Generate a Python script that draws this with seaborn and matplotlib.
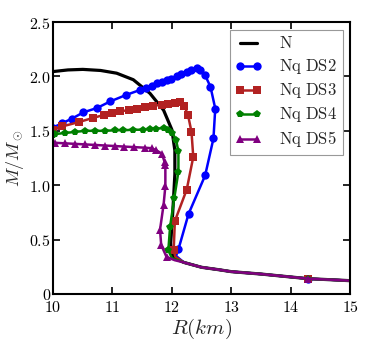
import matplotlib
matplotlib.use("Agg")
import matplotlib.pyplot as plt
import seaborn as sns
import numpy as np

# shared low-mass tail (all models coincide here)
R_TAIL = [12.2, 12.5, 12.8, 13.0, 13.5, 14.0, 14.3, 14.7, 15.0]
M_TAIL = [0.29, 0.245, 0.222, 0.205, 0.183, 0.156, 0.140, 0.130, 0.122]

# N (no markers)
R_N = [10.0, 10.25, 10.5, 10.8, 11.07, 11.35, 11.63, 11.86, 12.0, 12.05, 12.05, 12.03, 12.01, 11.98, 11.99, 12.05]
M_N = [2.045, 2.06, 2.065, 2.055, 2.03, 1.97, 1.845, 1.69, 1.51, 1.32, 1.1, 0.9, 0.71, 0.47, 0.38, 0.33]

# Nq DS2
R_DS2 = [10.0, 10.15, 10.31, 10.51, 10.74, 10.96, 11.23, 11.46, 11.57, 11.66, 11.75, 11.83, 11.91,
         11.99, 12.08, 12.16, 12.25, 12.33, 12.42, 12.48, 12.56, 12.65, 12.73, 12.70, 12.56,
         12.28, 12.11, 12.07]
M_DS2 = [1.53, 1.57, 1.61, 1.67, 1.71, 1.77, 1.83, 1.875, 1.89, 1.91, 1.94, 1.95, 1.97,
         1.98, 2.0, 2.02, 2.04, 2.06, 2.075, 2.06, 2.01, 1.905, 1.705, 1.43, 1.09,
         0.735, 0.41, 0.35]

# Nq DS3
R_DS3 = [10.0, 10.15, 10.43, 10.68, 10.85, 10.99, 11.13, 11.27, 11.41, 11.55, 11.69, 11.83, 11.94,
         12.05, 12.13, 12.21, 12.27, 12.33, 12.36, 12.25, 12.05, 12.03, 12.06]
M_DS3 = [1.51, 1.54, 1.58, 1.62, 1.645, 1.66, 1.68, 1.69, 1.70, 1.716, 1.73, 1.74, 1.75,
         1.76, 1.765, 1.725, 1.65, 1.49, 1.26, 0.96, 0.67, 0.40, 0.34]

# Nq DS4
R_DS4 = [10.0, 10.03, 10.2, 10.37, 10.54, 10.71, 10.87, 11.04, 11.18, 11.35, 11.52, 11.63, 11.74,
         11.86, 11.94, 12.01, 12.07, 12.11, 12.11, 12.04, 11.97, 11.94, 12.0]
M_DS4 = [1.46, 1.47, 1.48, 1.49, 1.50, 1.50, 1.50, 1.505, 1.505, 1.51, 1.51, 1.515, 1.52,
         1.525, 1.51, 1.48, 1.415, 1.31, 1.125, 0.88, 0.62, 0.40, 0.33]

# Nq DS5
R_DS5 = [10.0, 10.03, 10.2, 10.37, 10.54, 10.71, 10.87, 11.04, 11.2, 11.37, 11.54, 11.66, 11.74,
         11.83, 11.88, 11.89, 11.89, 11.86, 11.80, 11.82, 11.91, 12.05]
M_DS5 = [1.39, 1.39, 1.385, 1.38, 1.375, 1.37, 1.365, 1.36, 1.355, 1.35, 1.345, 1.34, 1.32,
         1.29, 1.21, 1.19, 0.99, 0.82, 0.59, 0.45, 0.34, 0.31]

X_TICKS = [10, 11, 12, 13, 14, 15]
X_LABELS = ["10", "11", "12", "13", "14", "15"]
Y_TICKS = [0, 0.5, 1.0, 1.5, 2.0, 2.5]
Y_LABELS = ["0", "0.5", "1.0", "1.5", "2.0", "2.5"]

sns.set_style("ticks")
plt.rcParams["mathtext.fontset"] = "cm"
plt.rcParams["font.family"] = ["DejaVu Serif"]

fig = plt.figure(figsize=(3.74, 3.45), dpi=100)
ax = fig.add_axes([0.142, 0.148, 0.794, 0.788])

sns.lineplot(x=R_N + R_TAIL, y=M_N + M_TAIL, sort=False, estimator=None, color="black",
             lw=2.3, label=r"$\mathrm{N}$", ax=ax)

series = [
    (R_DS2, M_DS2, "#0000ff", "o", 6.0, r"$\mathrm{Nq\ DS2}$"),
    (R_DS3, M_DS3, "#b22222", "s", 5.6, r"$\mathrm{Nq\ DS3}$"),
    (R_DS4, M_DS4, "#008000", "p", 6.0, r"$\mathrm{Nq\ DS4}$"),
    (R_DS5, M_DS5, "#800080", "^", 6.4, r"$\mathrm{Nq\ DS5}$"),
]
for r, m, c, mk, ms, lab in series:
    n = len(r)
    marks = list(range(n - 1)) + [n + R_TAIL.index(14.3)]
    sns.lineplot(x=r + R_TAIL, y=m + M_TAIL, sort=False, estimator=None, color=c,
                 lw=1.8, marker=mk, markersize=ms, markeredgewidth=0, markevery=marks,
                 label=lab, ax=ax)

ax.set_xlim(10, 15)
ax.set_ylim(0, 2.5)
ax.set_xticks(X_TICKS)
ax.set_xticklabels([f"${t}$" for t in X_LABELS])
ax.set_yticks(Y_TICKS)
ax.set_yticklabels([f"${t}$" for t in Y_LABELS])
ax.tick_params(direction="in", top=True, right=True, length=5, width=1.2,
               labelsize=11.5, colors="black")
ax.tick_params(axis="y", pad=1.5)
ax.tick_params(axis="x", pad=4)
for s in ax.spines.values():
    s.set_linewidth(1.5)
    s.set_color("black")
ax.set_xlabel(r"$R(km)$", fontsize=15, labelpad=0)
ax.set_ylabel(r"$M/M_\odot$", fontsize=13, labelpad=0)
ax.yaxis.set_label_coords(-0.09, 0.5)

leg = ax.legend(loc="upper right", fontsize=12, numpoints=2, handlelength=1.6,
                labelspacing=0.3, borderaxespad=0.45, fancybox=False, framealpha=1,
                edgecolor="#999999", handletextpad=1.0, borderpad=0.35)
leg.get_frame().set_linewidth(0.8)

fig.savefig("out.png", dpi=100)
